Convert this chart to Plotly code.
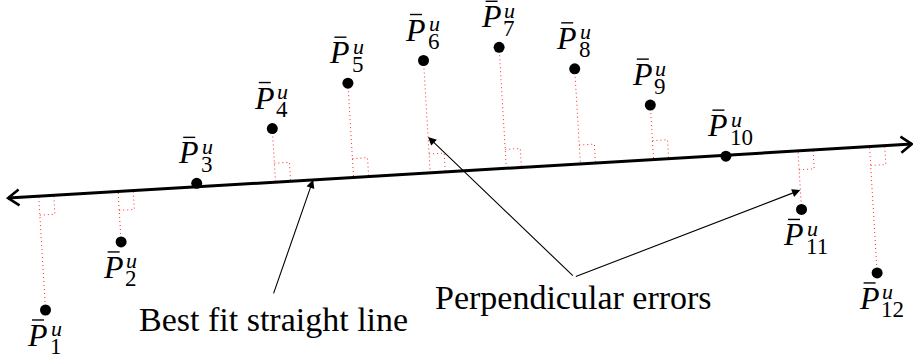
import numpy as np
import plotly.graph_objects as go

# Observed points (cm)
point_x = [0, 2, 4, 6, 8, 10, 12, 14, 16, 18, 20, 22]
point_y = [0.0, 1.8, 3.35, 4.8, 6.0, 6.6, 6.95, 6.38, 5.42, 4.07, 2.66, 0.98]
point_idx = [str(i) for i in range(1, 13)]
label_side = ["below", "below", "above", "above", "above", "above",
              "above", "above", "above", "above", "below", "below"]

# Best fit straight line (end points, cm)
line_x = [-0.99, 22.92]
line_y = [2.96, 4.39]

# Callout texts and where their arrows start / end
best_text = "Best fit straight line"
best_text_pos = (6.02, -0.25)
best_tail = (6.02, 0.40)
best_head_x = 7.08          # arrow meets the fitted line here

perp_text = "Perpendicular errors"
perp_text_pos = (13.98, 0.33)
perp_tail = (13.99, 0.87)
perp_targets = [(5, 0.68), (10, 0.33)]   # (point index, fraction from point to foot)

# Page geometry
W, H = 913, 358
PX = 37.8                    # pixels per cm
x0, y0 = -1.204, -1.27
x1, y1 = x0 + W / PX, y0 + H / PX

FONT = "Liberation Serif"
RED = "rgb(255,40,40)"

A = np.array([line_x[0], line_y[0]])
B = np.array([line_x[1], line_y[1]])
d = (B - A) / np.linalg.norm(B - A)
n_up = np.array([-d[1], d[0]])

P = np.column_stack([point_x, point_y]).astype(float)
t = (P - A) @ d
feet = A + np.outer(t, d)
offs = (P - A) @ n_up

fig = go.Figure()

# perpendicular error segments and right-angle marks
ex, ey, mx, my = [], [], [], []
s_line, s_perp = 0.4, 0.5
for p, f, o in zip(P, feet, offs):
    if abs(o) < 0.3:
        continue
    ex += [p[0], f[0], None]
    ey += [p[1], f[1], None]
    nt = np.sign(o) * n_up
    c1 = f + s_perp * nt
    c2 = c1 + s_line * d
    c3 = f + s_line * d
    mx += [c1[0], c2[0], c3[0], None]
    my += [c1[1], c2[1], c3[1], None]

fig.add_trace(go.Scatter(x=ex, y=ey, mode="lines",
                         line=dict(color=RED, width=1, dash="1px,3px"),
                         hoverinfo="skip"))
fig.add_trace(go.Scatter(x=mx, y=my, mode="lines",
                         line=dict(color=RED, width=1, dash="1px,3px"),
                         hoverinfo="skip"))

# fitted line with open arrow tips at both ends
fig.add_trace(go.Scatter(x=line_x, y=line_y, mode="lines",
                         line=dict(color="black", width=3), hoverinfo="skip"))
bl, bw = 11 / PX, 8 / PX
hx, hy = [], []
for tip, dirv in ((A, -d), (B, d)):
    back = tip - bl * dirv
    e1 = back + bw * np.array([-dirv[1], dirv[0]])
    e2 = back - bw * np.array([-dirv[1], dirv[0]])
    hx += [e1[0], tip[0], e2[0], None]
    hy += [e1[1], tip[1], e2[1], None]
fig.add_trace(go.Scatter(x=hx, y=hy, mode="lines",
                         line=dict(color="black", width=2.6),
                         hoverinfo="skip"))

# points
fig.add_trace(go.Scatter(x=point_x, y=point_y, mode="markers",
                         marker=dict(color="black", size=11),
                         hoverinfo="skip"))

# point labels:  P-bar, superscript u, numeric subscript
ann = []
bar_x, bar_y = [], []
for px_, py_, idx, side in zip(point_x, point_y, point_idx, label_side):
    base = 31 if side == "above" else -25
    ann.append(dict(x=px_, y=py_, xref="x", yref="y", text="<i>P</i>",
                    showarrow=False, xanchor="center", yanchor="middle",
                    xshift=-8, yshift=base,
                    font=dict(family=FONT, size=32, color="black")))
    ann.append(dict(x=px_, y=py_, xref="x", yref="y", text="<i>u</i>",
                    showarrow=False, xanchor="left", yanchor="middle",
                    xshift=3, yshift=base + 6,
                    font=dict(family=FONT, size=22, color="black")))
    ann.append(dict(x=px_, y=py_, xref="x", yref="y", text=idx,
                    showarrow=False, xanchor="left", yanchor="middle",
                    xshift=2, yshift=base - 12,
                    font=dict(family=FONT, size=23, color="black")))
    cx = px_ + (-7.5) / PX
    cy = py_ + (base + 15) / PX
    bar_x += [cx - 6 / PX, cx + 6 / PX, None]
    bar_y += [cy, cy, None]
fig.add_trace(go.Scatter(x=bar_x, y=bar_y, mode="lines",
                         line=dict(color="black", width=1.4), hoverinfo="skip"))

# callout texts
ann.append(dict(x=best_text_pos[0], y=best_text_pos[1], xref="x", yref="y",
                text=best_text, showarrow=False,
                font=dict(family=FONT, size=34, color="black")))
ann.append(dict(x=perp_text_pos[0], y=perp_text_pos[1], xref="x", yref="y",
                text=perp_text, showarrow=False,
                font=dict(family=FONT, size=34, color="black")))

# callout arrows
arrow_style = dict(showarrow=True, arrowhead=2, arrowsize=1.5, arrowwidth=1.1,
                   arrowcolor="black", axref="x", ayref="y", xref="x", yref="y",
                   text="", font=dict(size=1), standoff=0)
best_head_y = A[1] + (best_head_x - A[0]) * d[1] / d[0]
ann.append(dict(x=best_head_x, y=best_head_y, ax=best_tail[0], ay=best_tail[1],
                **arrow_style))
for k, frac in perp_targets:
    tgt = P[k] + frac * (feet[k] - P[k])
    ann.append(dict(x=tgt[0], y=tgt[1], ax=perp_tail[0], ay=perp_tail[1],
                    **arrow_style))

fig.update_layout(
    width=W, height=H, autosize=False,
    margin=dict(l=0, r=0, t=0, b=0),
    paper_bgcolor="white", plot_bgcolor="white",
    showlegend=False,
    xaxis=dict(range=[x0, x1], visible=False, fixedrange=True),
    yaxis=dict(range=[y0, y1], visible=False, fixedrange=True),
    annotations=ann,
)

fig.write_html("out.html")
